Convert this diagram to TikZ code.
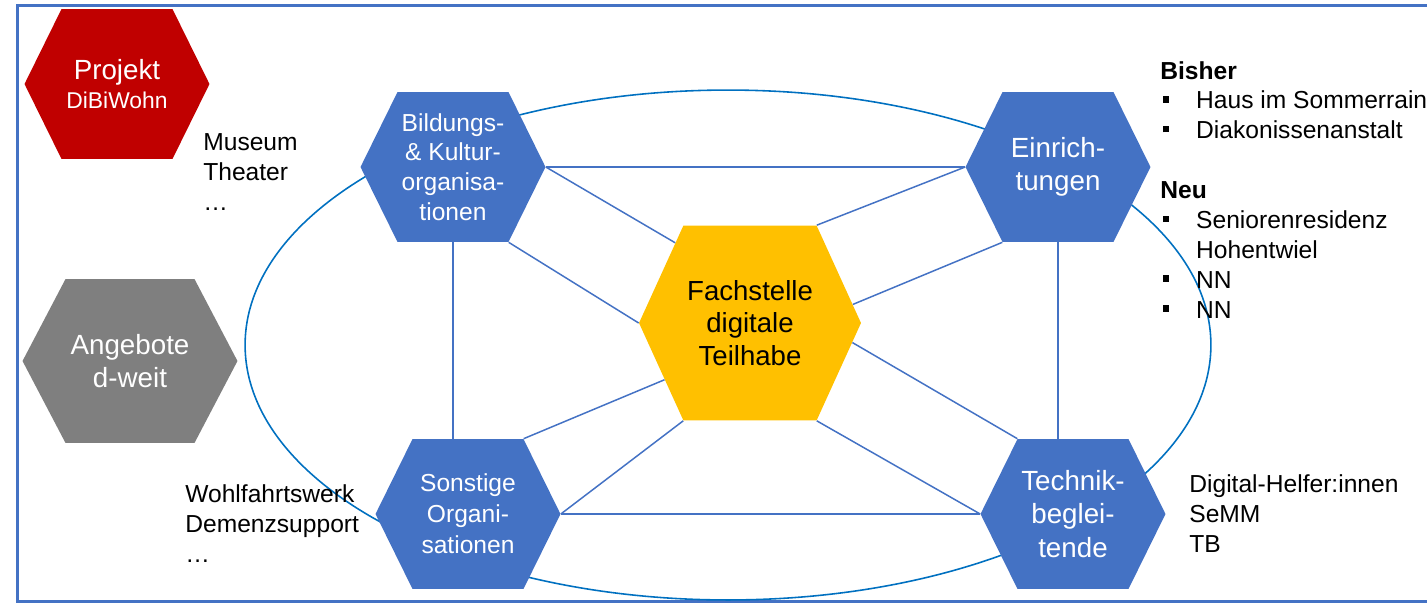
\documentclass[tikz,border=0pt]{standalone}
\usepackage{fontspec}
\setmainfont{Liberation Sans}
\usetikzlibrary{calc}

\definecolor{hexblue}{HTML}{4472C4}
\definecolor{hexred}{HTML}{C00000}
\definecolor{hexgray}{HTML}{7F7F7F}
\definecolor{hexgold}{HTML}{FFC000}
\definecolor{ringblue}{HTML}{0070C0}

\newcommand{\sqbul}{\makebox[20.4pt][l]{\hspace{1.6pt}\rule[3.6pt]{3.6pt}{3.6pt}}}

\tikzset{
    hexa/.style = {minimum width = 3.7cm, minimum height = 3cm, inner sep = 0pt, align = center, text = white,
        path picture = {\fill[#1] (path picture bounding box.west)
            -- ($(path picture bounding box.north west)!0.2!(path picture bounding box.north east)$)
            -- ($(path picture bounding box.north west)!0.8!(path picture bounding box.north east)$)
            -- (path picture bounding box.east)
            -- ($(path picture bounding box.south west)!0.8!(path picture bounding box.south east)$)
            -- ($(path picture bounding box.south west)!0.2!(path picture bounding box.south east)$)
            -- cycle;}},
    txtM/.style = {font = \fontsize{14}{17}\selectfont},
    txtL/.style = {font = \fontsize{15.8}{19}\selectfont},
    link/.style = {draw = hexblue, line width = 0.85pt},
    ring/.style = {draw = ringblue, line width = 0.9pt},
    frame/.style = {draw = hexblue, line width = 1.7pt},
    sidetext/.style = {txtM, align = left, anchor = base west, inner sep = 0pt}
}

\begin{document}
\begin{tikzpicture}[x = 0.02cm, y = -0.02cm]
    \useasboundingbox (0, 0) rectangle (1427, 603);
    \draw[frame] (17.5, 5.7) rectangle (1500, 601.5);

    % ring behind the hexagons
    \draw[ring] (728, 345) ellipse [x radius = 9.66cm, y radius = 5.1cm];

    % hexagons
    \node[hexa = hexred] (proj) at (117, 84) {{\fontsize{15.8}{16.4}\selectfont Projekt}\\[2.5pt]{\fontsize{13}{16.4}\selectfont DiBiWohn}};
    \node[hexa = hexgray, txtL, minimum width = 4.3cm, minimum height = 3.28cm] (ange) at (130, 361) {Angebote\\d-weit};
    \node[hexa = hexblue, txtM] (bild) at (453, 167) {Bildungs-\\\& Kultur-\\organisa-\\tionen};
    \node[hexa = hexblue, txtL] (einr) at (1058, 167) {Einrich-\\tungen};
    \node[hexa = hexblue, font = \fontsize{14}{17.6}\selectfont] (sons) at (468, 514) {Sonstige\\Organi-\\sationen};
    \node[hexa = hexblue, txtL] (tech) at (1073, 514) {Technik-\\beglei-\\tende};
    \node[hexa = hexgold, text = black, font = \fontsize{15.7}{18.7}\selectfont, minimum width = 4.44cm, minimum height = 3.9cm] (fach) at (750, 323) {Fachstelle\\digitale\\Teilhabe};

    % hexagon corners
    \foreach \n in {bild, einr, sons, tech, fach} {
        \coordinate (\n-nw) at ($(\n.north west)!0.2!(\n.north east)$);
        \coordinate (\n-ne) at ($(\n.north west)!0.8!(\n.north east)$);
        \coordinate (\n-sw) at ($(\n.south west)!0.2!(\n.south east)$);
        \coordinate (\n-se) at ($(\n.south west)!0.8!(\n.south east)$);
    }

    % connectors
    \draw[link] (bild.east) -- (einr.west);
    \draw[link] (sons.east) -- (tech.west);
    \draw[link] (bild.south) -- (bild.south |- sons.north);
    \draw[link] (einr.south) -- (einr.south |- tech.north);
    \draw[link] (bild.east) -- ($(fach-nw)!0.18!(fach.west)$);
    \draw[link] (bild-se) -- (fach.west);
    \draw[link] (einr.west) -- (fach-ne);
    \draw[link] (einr-sw) -- ($(fach-ne)!0.81!(fach.east)$);
    \draw[link] (sons-ne) -- ($(fach.west)!0.58!(fach-sw)$);
    \draw[link] (sons.east) -- (fach-sw);
    \draw[link] (tech-nw) -- ($(fach.east)!0.2!(fach-se)$);
    \draw[link] (tech.west) -- (fach-se);

    % side texts (anchored at the last line)
    \node[sidetext] (muse) at (203, 210) {Museum\\Theater\\…};
    \node[sidetext] (wohl) at (185, 562) {Wohlfahrtswerk\\Demenzsupport\\…};
    \node[sidetext] (helf) at (1189, 552) {Digital-Helfer:innen\\SeMM\\TB};
    \node[sidetext] (bish) at (1160, 318) {\textbf{Bisher}\\
        \sqbul Haus im Sommerrain\\
        \sqbul Diakonissenanstalt\\
        \mbox{}\\
        \textbf{Neu}\\
        \sqbul Seniorenresidenz\\
        \hspace*{20.4pt}Hohentwiel\\
        \sqbul NN\\
        \sqbul NN};
\end{tikzpicture}
\end{document}
